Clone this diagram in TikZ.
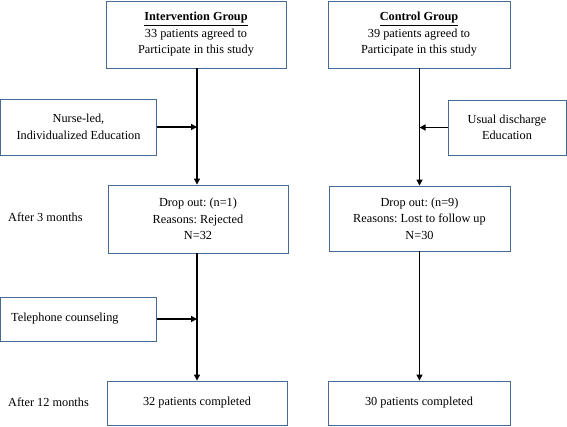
\documentclass[tikz,border=0pt]{standalone}
\usepackage{fontspec}
\setmainfont{Liberation Serif}
\usetikzlibrary{arrows.meta}
\definecolor{boxcol}{RGB}{70,108,150}
\tikzset{
  box/.style={draw=boxcol, line width=0.9pt, fill=white, align=center, inner sep=0pt,
    font=\fontsize{12.3}{16.5}\selectfont},
  lbl/.style={anchor=west, inner sep=0pt, font=\fontsize{12.3}{16.5}\selectfont},
  conn/.style={draw=black, line width=1.2pt, -{Triangle[length=6pt,width=6pt]}},
  hconn/.style={conn, line width=1.7pt},
}
\frenchspacing
\begin{document}
\begin{tikzpicture}[x=1pt,y=-1pt]
\useasboundingbox (0,0) rectangle (567,426);
\fill[white] (0,0) rectangle (567,426);
% boxes
\node[box, minimum width=180pt, minimum height=67pt] (int) at (196,34.5)
  {\textbf{\underline{Intervention Group}}\\33 patients agreed to\\Participate in this study};
\node[box, minimum width=182pt, minimum height=67pt] (ctl) at (419,34.5)
  {\textbf{\underline{Control Group}}\\39 patients agreed to\\Participate in this study};
\node[box, minimum width=156pt, minimum height=56pt] (nurse) at (78.5,127)
  {Nurse-led,\\Individualized Education};
\node[box, minimum width=118pt, minimum height=55pt] (usual) at (507,127.5)
  {Usual discharge\\Education};
\node[box, minimum width=180pt, minimum height=68pt] (dropL) at (198,219)
  {Drop out: (n=1)\\Reasons: Rejected\\N=32};
\node[box, minimum width=181pt, minimum height=65pt] (dropR) at (419.5,218.5)
  {Drop out: (n=9)\\Reasons: Lost to follow up\\N=30};
\node[box, minimum width=156pt, minimum height=44pt] (tele) at (78.5,319) {};
\node[lbl] (teletext) at (11,319) {Telephone counseling};
\node[box, minimum width=180pt, minimum height=44pt] (finL) at (197,403)
  {32 patients completed};
\node[box, minimum width=182pt, minimum height=44pt] (finR) at (419,403)
  {30 patients completed};
% side labels
\node[lbl] (m3) at (8,217) {After 3 months};
\node[lbl] (m12) at (8,402) {After 12 months};
% connectors
\coordinate (jL) at (197,0);
\coordinate (jR) at (419.5,0);
\draw[conn] (int.south -| jL) -- (dropL.north -| jL);
\draw[conn] (dropL.south -| jL) -- (finL.north -| jL);
\draw[conn] (ctl.south -| jR) -- (dropR.north -| jR);
\draw[conn] (dropR.south -| jR) -- (finR.north -| jR);
\draw[hconn] (nurse.east) -- (nurse.east -| jL);
\draw[hconn] (tele.east) -- (tele.east -| jL);
\draw[hconn] (usual.west) -- (usual.west -| jR);
\end{tikzpicture}
\end{document}
